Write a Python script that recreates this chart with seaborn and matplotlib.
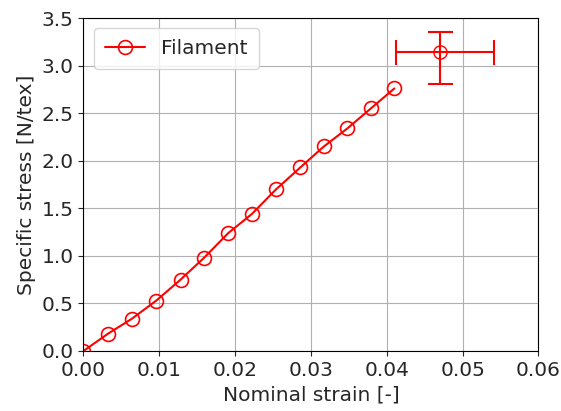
import numpy as np
import pandas as pd
import seaborn as sns
import matplotlib.pyplot as plt

# filament curve
strain = [0.0, 0.0032, 0.0064, 0.0096, 0.0128, 0.0159, 0.0191, 0.0222,
          0.0254, 0.0286, 0.0317, 0.0348, 0.0379, 0.0410]
stress = [0.0, 0.18, 0.34, 0.53, 0.75, 0.98, 1.24, 1.44,
          1.70, 1.93, 2.15, 2.34, 2.55, 2.76]

# mean failure point with (asymmetric) scatter
fail_strain = 0.0470
fail_stress = 3.14
fail_strain_err = [[0.0058], [0.0071]]
fail_stress_err = [[0.33], [0.21]]

df = pd.DataFrame({"strain": strain, "stress": stress})

sns.set_style("ticks")
plt.rcParams['font.family'] = ['DejaVu Sans']
fs = 14.5

fig = plt.figure(figsize=(5.61, 4.11), dpi=100)
ax = fig.add_axes([0.1488, 0.146, 0.811, 0.810])

sns.lineplot(data=df, x="strain", y="stress", ax=ax, color="red",
             marker="o", markersize=10, markerfacecolor="none",
             markeredgecolor="red", markeredgewidth=1.2, linewidth=1.5,
             label="Filament")
ax.errorbar(fail_strain, fail_stress, xerr=fail_strain_err, yerr=fail_stress_err,
            fmt="o", color="red", markerfacecolor="none", markersize=9.5,
            capsize=9, elinewidth=1.5, capthick=1.5)

ax.set_xlim(0, 0.06)
ax.set_ylim(0, 3.5)
ax.set_xticks(np.arange(0, 0.061, 0.01))
ax.set_yticks(np.arange(0, 3.51, 0.5))
ax.set_xticklabels([f"{v:.2f}" for v in np.arange(0, 0.061, 0.01)])
ax.set_yticklabels([f"{v:.1f}" for v in np.arange(0, 3.51, 0.5)])
ax.grid(True, color="#b0b0b0", linewidth=0.8)
ax.tick_params(labelsize=fs)
ax.set_xlabel("Nominal strain [-]", fontsize=fs)
ax.set_ylabel("Specific stress [N/tex]", fontsize=fs)
for s in ax.spines.values():
    s.set_color("black")
ax.legend(loc="upper left", fontsize=fs, borderpad=0.55)

fig.savefig("out.png", dpi=100)
